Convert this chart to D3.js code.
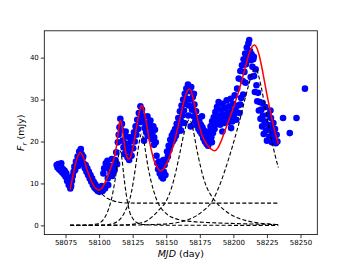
<!DOCTYPE html>
<html>
<head>
<meta charset="utf-8">
<script src="https://cdn.jsdelivr.net/npm/d3@7"></script>
<style>
body { margin: 0; background: #fff; }
svg text { font-family: "DejaVu Sans", sans-serif; }
</style>
</head>
<body>
<div id="chart"></div>
<script>
// observed flux points [MJD, mJy]
var obs = [
[58068.4,14.4],[58069,13.8],[58069.6,14.6],[58070.2,13.4],[58070.8,14.2],[58071.4,13.0],[58072,13.8],[58072.6,12.6],
[58073.2,13.4],[58073.8,12.2],[58074.4,13.0],[58075,11.6],[58075.6,12.4],[58076.2,10.6],[58076.8,11.4],[58077.4,9.6],
[58078,10.4],[58078.6,8.8],[58079.2,9.4],[58079.8,10.6],[58080.4,11.8],[58081,12.8],[58081.6,14.0],[58082.2,13.2],
[58082.8,15.2],[58083.4,14.4],[58084,16.4],[58084.6,15.6],[58085.2,17.6],[58085.8,16.8],[58086.4,18.2],[58087,17.0],
[58087.6,15.8],[58088.2,16.4],[58088.8,14.6],[58089.4,13.6],[58090,14.4],[58090.6,12.8],[58091.2,13.6],[58091.8,12.0],
[58092.4,12.8],[58093,11.2],[58093.6,12.0],[58094.2,10.4],[58094.8,11.2],[58095.4,9.6],[58096,10.4],[58096.6,9.0],
[58097.2,9.8],[58097.8,8.6],[58098.4,9.2],[58099,8.2],[58099.6,8.8],[58100.2,8.0],[58100.8,9.0],[58101.4,8.4],
[58102,9.4],[58102.6,8.2],[58103.2,12.4],[58103.8,13.6],[58104.4,8.8],[58105,14.8],[58105.6,13.8],[58106.2,15.4],
[58106.8,9.6],[58107.4,14.2],[58108,13.2],[58108.6,12.4],[58109.2,13.0],[58109.8,11.8],[58110.4,12.8],[58111,14.2],
[58111.6,13.2],[58112.2,15.6],[58112.8,17.4],[58113.4,14.6],[58114,19.8],[58114.6,21.6],[58115.2,23.4],[58115.8,25.4],
[58116.4,22.8],[58117,24.2],[58117.6,20.2],[58118.2,18.6],[58118.8,17.0],[58119.4,19.6],[58120,21.2],[58120.6,17.8],
[58121.2,16.2],[58121.8,19.0],[58122.4,15.6],[58123,17.6],[58123.6,20.0],[58124.2,16.6],[58124.8,21.0],[58125.4,18.4],
[58126,22.2],[58126.6,20.0],[58127.2,23.6],[58127.8,21.6],[58128.4,25.2],[58129,23.0],[58129.6,26.8],[58130.2,24.6],
[58130.8,28.4],[58131.4,26.2],[58132,27.6],[58132.6,24.8],[58133.2,25.8],[58133.8,23.2],[58134.4,24.4],[58135,22.2],
[58135.6,23.8],[58136.2,21.4],[58136.8,22.8],[58137.4,24.2],[58138,21.6],[58138.6,23.0],[58139.2,20.6],[58139.8,22.2],
[58140.4,23.6],[58141,21.0],[58141.6,22.8],[58142.2,19.8],[58142.8,16.6],[58143.4,14.8],[58144,13.4],[58144.6,15.2],
[58145.2,12.4],[58145.8,14.2],[58146.4,11.6],[58147,13.2],[58147.6,11.2],[58148.2,12.8],[58148.8,14.4],[58149.4,12.0],
[58150,15.6],[58150.6,17.6],[58151.2,16.4],[58151.8,19.0],[58152.4,18.0],[58153,20.4],[58153.6,19.2],[58154.2,21.4],
[58154.8,20.0],[58155.4,22.2],[58156,20.6],[58156.6,23.0],[58157.2,21.4],[58157.8,24.2],[58158.4,22.4],[58159,25.6],
[58159.6,23.6],[58160.2,27.2],[58160.8,25.0],[58161.4,28.6],[58162,26.2],[58162.6,30.0],[58163.2,27.4],[58163.8,31.4],
[58164.4,29.0],[58165,32.6],[58165.6,30.2],[58166.2,33.6],[58166.8,28.6],[58167.4,32.0],[58168,30.0],[58168.6,33.0],
[58169.2,27.6],[58169.8,30.6],[58170.4,26.0],[58171,28.8],[58171.6,24.8],[58172.2,27.2],[58172.8,23.8],[58173.4,25.6],
[58174,23.0],[58174.6,24.8],[58175.2,22.4],[58175.8,24.0],[58176.4,21.8],[58177,23.4],[58177.6,20.8],[58178.2,22.6],
[58178.8,20.0],[58179.4,21.8],[58180,19.4],[58180.6,21.2],[58181.2,19.0],[58181.8,22.4],[58182.4,20.2],[58183,23.6],
[58183.6,21.0],[58184.2,24.8],[58184.8,22.0],[58185.4,25.8],[58186,23.0],[58186.6,27.0],[58187.2,24.2],[58187.8,28.2],
[58188.4,25.0],[58189,29.4],[58189.6,26.2],[58190.2,24.0],[58190.8,27.6],[58191.4,25.2],[58192,29.0],[58192.6,26.4],
[58193.2,24.4],[58193.8,28.0],[58194.4,25.6],[58195,29.8],[58195.6,26.8],[58196.2,24.6],[58196.8,28.4],[58197.4,25.8],
[58198,30.2],[58198.6,27.4],[58199.2,24.8],[58199.8,29.0],[58200.4,26.4],[58201,31.0],[58201.6,27.6],[58202.2,25.2],
[58202.8,32.6],[58203.4,28.6],[58204,35.0],[58204.6,26.8],[58205.2,36.8],[58205.8,30.4],[58206.4,38.2],[58207,34.4],
[58207.6,39.6],[58208.2,36.6],[58208.8,41.0],[58209.4,38.4],[58210,42.4],[58210.6,39.8],[58211.2,43.4],[58211.8,44.2],
[58212.4,41.6],[58213,39.4],[58213.6,40.8],[58214.2,37.8],[58214.8,39.6],[58215.4,35.6],[58216,31.8],[58216.6,37.2],
[58217.2,33.4],[58217.8,29.6],[58218.4,31.6],[58219,27.4],[58219.6,29.4],[58220.2,25.4],[58220.8,27.6],[58221.4,23.6],
[58222,26.2],[58222.6,21.8],[58223.2,24.8],[58223.8,28.2],[58224.4,22.6],[58225,20.2],[58225.6,24.0],[58226.2,26.4],
[58226.8,21.2],[58227.4,23.2],[58228,25.6],[58228.6,19.8],[58229.2,22.0],[58229.8,24.4],[58230.4,20.6],[58231,23.0],
[58231.6,19.6],[58232.2,21.6],[58232.8,20.0],[58237,25.6],[58242,22.0],[58247,25.6],[58253.3,32.6],
// scattered extra readings inside the dense band
[58071.8,14.8],[58084.8,14.2],[58086.9,15.0],[58106.5,11.2],[58109.5,15.8],[58119.8,22.4],[58122.8,21.0],
[58133.5,20.2],[58136,26.0],[58138.2,25.0],[58140.9,19.2],[58147.9,15.6],[58161,22.6],[58163.4,24.4],
[58166.4,26.2],[58168.2,23.6],[58170.6,31.4],[58176.6,26.0],[58184,19.8],[58191.8,22.4],[58198.3,23.2],
[58205.1,28.8],[58207.3,31.2],[58209.1,34.0],[58212.9,35.4],[58215.2,40.2],[58221.8,29.2],[58227.6,27.4]
]

// total model (red)
var totalFit = [
[58078.4,8.5],[58080,11.0],[58082,14.0],[58084,16.4],[58086,17.4],[58088,16.5],[58090,14.4],[58092,12.4],
[58094,10.7],[58096,9.5],[58098,8.7],[58099.5,8.4],[58101,8.6],[58103,9.3],[58105,10.6],[58107,12.2],
[58109,14.0],[58111,15.9],[58112,17.2],[58113,19.0],[58114,21.6],[58115,23.9],[58115.8,25.0],[58116.5,24.6],
[58117.5,22.6],[58118.5,20.2],[58119.5,18.0],[58120.5,16.6],[58121.5,15.9],[58122.5,15.8],[58123.5,16.4],[58125,18.2],
[58127,21.8],[58129,25.4],[58130.5,27.8],[58131.7,28.6],[58133,27.8],[58135,24.8],[58137,21.0],[58139,17.8],
[58141,15.4],[58143,14.0],[58145.5,13.0],[58148,13.4],[58150,14.6],[58152,16.0],[58155,18.8],[58158,22.4],
[58161,26.6],[58164,30.6],[58166,32.2],[58167.2,32.5],[58168.5,32.0],[58170.5,29.6],[58172.5,26.6],[58174.5,23.8],
[58176.5,21.6],[58178.5,20.2],[58181,19.0],[58183.5,18.2],[58186,17.8],[58188.5,18.5],[58191,20.2],[58194,22.8],
[58197,25.4],[58200,28.0],[58203,31.0],[58206,34.2],[58209,37.8],[58212,41.2],[58214,42.6],[58215.6,43.0],
[58217,42.6],[58219,40.8],[58221,38.0],[58223,34.6],[58225,31.2],[58227,28.0],[58229,25.0],[58231,22.2],[58233.5,19.4]
]

// single flare components (dashed), the first one sits on the constant level
var flare1 = [
[58078.4,8.5],[58080,11.0],[58082,14.0],[58084,16.4],[58086,17.4],[58088,16.6],[58090,14.6],[58092,12.6],
[58094,11.0],[58096,9.8],[58098,8.8],[58100,8.1],[58103,7.2],[58106,6.5],[58110,5.9],[58115,5.5],
[58120,5.35],[58130,5.3],[58233.5,5.3]
]
var flare2 = [
[58078.4,0],[58090,0.05],[58096,0.2],[58100,0.5],[58103,1.3],[58106,3.0],[58108,4.8],[58110,7.4],
[58112,11.0],[58113.5,14.4],[58114.6,16.8],[58115.5,17.8],[58116.3,17.4],[58117.2,15.4],[58118.5,11.6],[58120,7.8],
[58121.5,5.0],[58123,3.0],[58125,1.7],[58128,0.7],[58133,0.2],[58145,0.05],[58233.5,0]
]
var flare3 = [
[58078.4,0],[58100,0.05],[58108,0.25],[58113,0.8],[58117,2.0],[58120,3.8],[58122,5.3],[58124,7.8],
[58126,11.4],[58128,15.8],[58130,20.0],[58131.5,21.8],[58132.8,21.0],[58134.5,17.8],[58136.5,13.8],[58138.5,10.8],
[58140.5,8.4],[58143,6.0],[58145.5,4.4],[58148,3.4],[58152,2.3],[58156,1.7],[58160,1.3],[58170,0.9],
[58180,0.7],[58195,0.5],[58210,0.35],[58233.5,0.2]
]
var flare4 = [
[58078.4,0],[58110,0.05],[58123,0.2],[58130,0.5],[58135,1.0],[58140,2.2],[58145,3.8],[58150,5.8],
[58154,9.0],[58157,12.6],[58160,17.0],[58163,21.6],[58165,24.0],[58167,25.2],[58168.6,24.6],[58170.3,22.4],
[58172,19.4],[58174,16.2],[58176,13.4],[58178,11.0],[58180,9.2],[58182.5,7.6],[58185,6.4],[58188,5.2],
[58192,4.0],[58197,2.8],[58203,1.8],[58210,1.1],[58218,0.6],[58226,0.35],[58233.5,0.2]
]
var flare5 = [
[58078.4,0],[58120,0.05],[58140,0.2],[58155,0.5],[58165,1.2],[58172,2.2],[58178,3.6],[58182,4.8],
[58185,6.2],[58188,8.2],[58191,10.6],[58194,13.4],[58197,16.4],[58200,19.6],[58203,23.0],[58206,26.6],
[58209,30.6],[58212,34.2],[58214,36.4],[58216,37.4],[58217.5,37.0],[58219,35.4],[58221,32.6],[58223,29.2],
[58225,25.8],[58227,22.6],[58229,19.6],[58231,16.8],[58233.5,13.8]
]

var xTicks = [58075, 58100, 58125, 58150, 58175, 58200, 58225, 58250]
var yTicks = [0, 10, 20, 30, 40]

var W = 352, H = 264
var L = 44.3, R = 317.3, T = 30.8, B = 234.6

var svg = d3.select('#chart').append('svg').attr('width', W).attr('height', H)

var x = d3.scaleLinear().domain([58059.2, 58262.5]).range([L, R])
var y = d3.scaleLinear().domain([-2.2, 46.4]).range([B, T])

svg.append('clipPath').attr('id', 'clip')
  .append('rect').attr('x', L).attr('y', T).attr('width', R - L).attr('height', B - T)

var plot = svg.append('g').attr('clip-path', 'url(#clip)')

plot.selectAll('circle').data(obs).enter().append('circle')
  .attr('cx', d => x(d[0]))
  .attr('cy', d => y(d[1]))
  .attr('r', 3.3)
  .attr('fill', '#0000ff')

var line = d3.line().x(d => x(d[0])).y(d => y(d[1])).curve(d3.curveMonotoneX)

;[flare1, flare2, flare3, flare4, flare5].forEach(function(f){
  plot.append('path').attr('d', line(f))
    .attr('fill', 'none').attr('stroke', '#000')
    .attr('stroke-width', 1.1).attr('stroke-dasharray', '4,2.2')
})

plot.append('path').attr('d', line(totalFit))
  .attr('fill', 'none').attr('stroke', '#ff0000').attr('stroke-width', 1.5)

// axes
var xAxis = svg.append('g').attr('transform', 'translate(0,' + B + ')')
  .call(d3.axisBottom(x).tickValues(xTicks).tickFormat(d3.format('d')).tickSize(3.5).tickPadding(2))
var yAxis = svg.append('g').attr('transform', 'translate(' + L + ',0)')
  .call(d3.axisLeft(y).tickValues(yTicks).tickSize(3.5).tickPadding(2))

;[xAxis, yAxis].forEach(function(a){
  a.select('.domain').remove()
  a.selectAll('line').attr('stroke', '#000').attr('stroke-width', 0.8)
  a.selectAll('text').attr('fill', '#000').style('font-size', '7px').style('font-family', '"DejaVu Sans", sans-serif')
})

svg.append('rect').attr('x', L).attr('y', T).attr('width', R - L).attr('height', B - T)
  .attr('fill', 'none').attr('stroke', '#000').attr('stroke-width', 0.8)

// axis titles
var xl = svg.append('text').attr('x', (L + R) / 2).attr('y', 256.5)
  .attr('text-anchor', 'middle').style('font-size', '9.5px')
xl.append('tspan').style('font-style', 'italic').text('MJD')
xl.append('tspan').text(' (day)')

var yl = svg.append('text').attr('transform', 'translate(24,' + ((T + B) / 2) + ') rotate(-90)')
  .attr('text-anchor', 'middle').style('font-size', '9.5px')
yl.append('tspan').style('font-style', 'italic').text('F')
yl.append('tspan').attr('dy', 2.5).style('font-style', 'italic').style('font-size', '7px').text('r')
yl.append('tspan').attr('dy', -2.5).text(' (mJy)')
</script>
</body>
</html>
